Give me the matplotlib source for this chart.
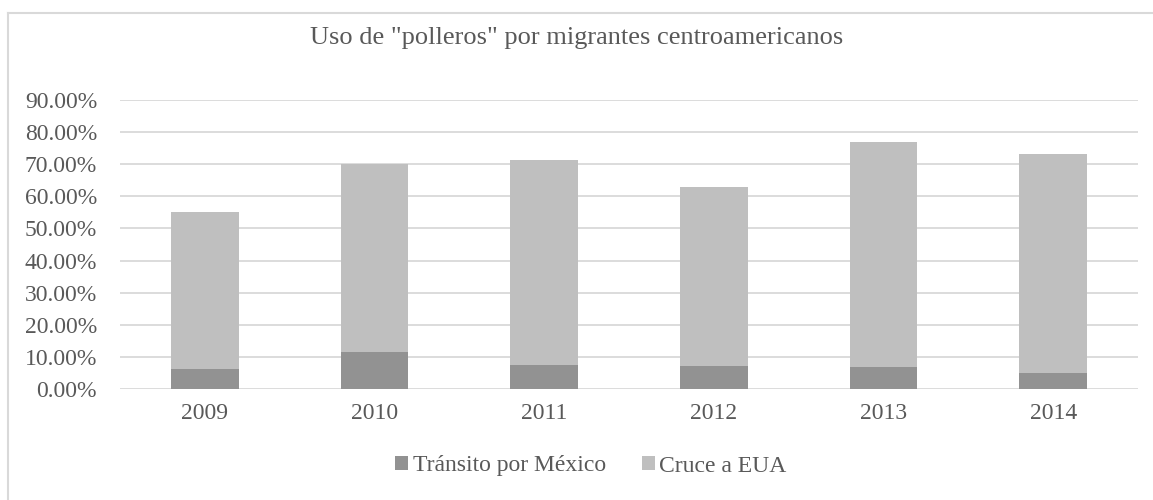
import matplotlib.pyplot as plt
from matplotlib.lines import Line2D
from matplotlib.ticker import FuncFormatter

years = ["2009", "2010", "2011", "2012", "2013", "2014"]
transito = [6.1, 11.6, 7.4, 7.2, 6.9, 5.1]
cruce = [48.9, 58.5, 63.8, 55.6, 70.1, 68.1]

plt.rcParams['font.family'] = ['Liberation Serif', 'DejaVu Serif']
txt = '#595959'
W, H = 1153, 500

fig = plt.figure(figsize=(W / 100, H / 100), dpi=100)
ax = fig.add_axes([120 / W, 1 - 389 / H, 1018 / W, 289 / H])

x = range(len(years))
ax.bar(x, transito, width=0.4, color='#929292', label='Tránsito por México', zorder=3)
ax.bar(x, cruce, width=0.4, bottom=transito, color='#bfbfbf', label='Cruce a EUA', zorder=3)

ax.set_xlim(-0.5, len(years) - 0.5)
ax.set_ylim(0, 90)
ax.set_yticks(range(0, 91, 10))
ax.yaxis.set_major_formatter(FuncFormatter(lambda v, p: f"{v:.2f}%"))
ax.set_xticks(list(x))
ax.set_xticklabels(years)
ax.grid(axis='y', color='#d9d9d9', linewidth=1.3, zorder=0)
for s in ax.spines.values():
    s.set_visible(False)
ax.tick_params(length=0, labelsize=17, labelcolor=txt)
ax.tick_params(axis='y', pad=16.5)
ax.tick_params(axis='x', pad=10)

fig.text(0.5, 1 - 38 / H, 'Uso de "polleros" por migrantes centroamericanos',
         ha='center', va='center', fontsize=19, color=txt)

leg = fig.legend(loc='center', bbox_to_anchor=(591 / W, 1 - 466 / H), ncol=2, frameon=False,
                 fontsize=17, handlelength=0.55, handleheight=0.55, handletextpad=0.2,
                 columnspacing=1.5)
for t in leg.get_texts():
    t.set_color(txt)

# outer chart border (top and left only)
fig.add_artist(Line2D([8 / W, 1], [1 - 13 / H, 1 - 13 / H], color='#d9d9d9', lw=1.5))
fig.add_artist(Line2D([8 / W, 8 / W], [0, 1 - 13 / H], color='#d9d9d9', lw=1.5))

fig.savefig('out.png', dpi=100)
